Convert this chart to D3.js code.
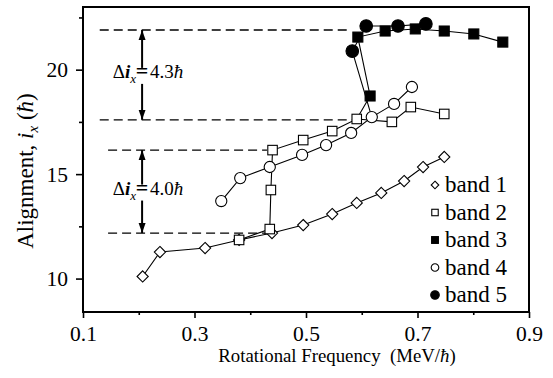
<!DOCTYPE html>
<html>
<head>
<meta charset="utf-8">
<script src="https://cdn.jsdelivr.net/npm/d3@7"></script>
<style>
  body { margin: 0; background: #fff; }
  svg text { font-family: "Liberation Serif", "DejaVu Serif", "Noto Serif", serif !important; fill: #000; }
</style>
</head>
<body>
<svg id="chart" width="553" height="378"></svg>
<script>
// values (frequency in MeV/hbar, alignment in hbar)
const band1Freq = [0.207, 0.238, 0.319, 0.38, 0.439, 0.495, 0.547, 0.591, 0.635, 0.676, 0.71, 0.748];
const band1Align = [10.1, 11.27, 11.46, 11.85, 12.18, 12.56, 13.09, 13.62, 14.1, 14.67, 15.34, 15.82];
const band2Freq = [0.38, 0.435, 0.437, 0.44, 0.495, 0.547, 0.591, 0.654, 0.688, 0.748];
const band2Align = [11.85, 12.37, 14.24, 16.15, 16.63, 17.06, 17.64, 17.5, 18.21, 17.88];
const band3Freq = [0.615, 0.593, 0.642, 0.696, 0.748, 0.801, 0.853];
const band3Align = [18.74, 21.56, 21.85, 21.95, 21.85, 21.71, 21.32];
const band4Freq = [0.348, 0.382, 0.435, 0.493, 0.536, 0.581, 0.618, 0.658, 0.69];
const band4Align = [13.71, 14.81, 15.34, 15.92, 16.39, 16.97, 17.73, 18.36, 19.17];
const band5Freq = [0.583, 0.608, 0.665, 0.715];
const band5Align = [20.89, 22.09, 22.09, 22.19];

// reference levels and the two alignment gains
const levelAlign = [21.9, 17.6, 16.15, 12.18];
const levelFrom = [0.13, 0.13, 0.145, 0.145];
const levelTo = [0.575, 0.586, 0.43, 0.43];
const gainFreq = 0.206;
const gainTop = [21.9, 16.15];
const gainBottom = [17.6, 12.18];
const gainLabel = ["4.3", "4.0"];

const freqMajor = [0.1, 0.3, 0.5, 0.7, 0.9];
const freqMinor = [0.2, 0.4, 0.6, 0.8];
const alignMajor = [10, 15, 20];
const alignMinor = [12.5, 17.5, 22.5];
const legendLabels = ["band 1", "band 2", "band 3", "band 4", "band 5"];

const svg = d3.select("#chart");
const x = d3.scaleLinear().domain([0.1, 0.9]).range([83, 529]);
const y = d3.scaleLinear().domain([8.4, 23]).range([312, 7]);

const zip = (f, a) => f.map((v, i) => ({ f: v, a: a[i] }));
const bands = [
  { kind: "diamond", pts: zip(band1Freq, band1Align), from: null },
  { kind: "square", pts: zip(band2Freq, band2Align), from: null },
  { kind: "squareFill", pts: zip(band3Freq, band3Align), from: { f: band2Freq[6], a: band2Align[6] } },
  { kind: "circle", pts: zip(band4Freq, band4Align), from: null },
  { kind: "circleFill", pts: zip(band5Freq, band5Align), from: { f: band4Freq[6], a: band4Align[6] } },
];

// dashed reference lines
svg.append("g").selectAll("line")
  .data(levelAlign)
  .join("line")
  .attr("x1", (d, i) => x(levelFrom[i]))
  .attr("x2", (d, i) => x(levelTo[i]))
  .attr("y1", (d) => y(d))
  .attr("y2", (d) => y(d))
  .attr("stroke", "#000")
  .attr("stroke-width", 1.3)
  .attr("stroke-dasharray", "9,5");

// double arrows with labels
const defs = svg.append("defs");
defs.append("marker")
  .attr("id", "head")
  .attr("viewBox", "0 0 10 10")
  .attr("refX", 10).attr("refY", 5)
  .attr("markerWidth", 10).attr("markerHeight", 10)
  .attr("markerUnits", "userSpaceOnUse")
  .attr("orient", "auto")
  .append("path").attr("d", "M0,1.5L10,5L0,8.5Z").attr("fill", "#000");

const ann = svg.append("g");
gainTop.forEach((top, i) => {
  const ax = x(gainFreq);
  const yt = y(top), yb = y(gainBottom[i]);
  const mid = (yt + yb) / 2;
  ann.append("line").attr("x1", ax).attr("x2", ax).attr("y1", mid - 7).attr("y2", yt)
    .attr("stroke", "#000").attr("stroke-width", 2).attr("marker-end", "url(#head)");
  ann.append("line").attr("x1", ax).attr("x2", ax).attr("y1", mid + 9).attr("y2", yb)
    .attr("stroke", "#000").attr("stroke-width", 2).attr("marker-end", "url(#head)");
  const base = mid + 3;
  const left = ann.append("text").attr("x", ax - 6).attr("y", base)
    .attr("text-anchor", "end").attr("font-size", 19);
  left.append("tspan").text("Δ");
  left.append("tspan").text("i").attr("font-style", "italic").attr("font-weight", "bold");
  left.append("tspan").text("x").attr("font-style", "italic").attr("font-size", 13).attr("dy", 5);
  ann.append("text").attr("x", ax).attr("y", base).attr("text-anchor", "middle")
    .attr("font-size", 22).attr("font-weight", "bold").text("=");
  const right = ann.append("text").attr("x", ax + 8).attr("y", base).attr("font-size", 19);
  right.append("tspan").text(gainLabel[i]);
  right.append("tspan").text("ħ").attr("font-style", "italic");
});

// connecting lines
const line = d3.line().x((d) => x(d.f)).y((d) => y(d.a));
svg.append("g").selectAll("path")
  .data(bands)
  .join("path")
  .attr("d", (b) => line(b.from ? [b.from, ...b.pts] : b.pts))
  .attr("fill", "none")
  .attr("stroke", "#000")
  .attr("stroke-width", 1.1);

function drawMark(sel, kind, big) {
  const k = big ? 1 : 0.68;
  if (kind === "diamond") {
    const r = 5.6 * k;
    sel.append("path").attr("d", `M0,${-r}L${r},0L0,${r}L${-r},0Z`)
      .attr("fill", "#fff").attr("stroke", "#000").attr("stroke-width", 1.1);
  } else if (kind === "square" || kind === "squareFill") {
    const s = (kind === "square" ? 9.5 : 10) * k;
    sel.append("rect").attr("x", -s / 2).attr("y", -s / 2).attr("width", s).attr("height", s)
      .attr("fill", kind === "square" ? "#fff" : "#000").attr("stroke", "#000").attr("stroke-width", 1.1);
  } else {
    const r = (kind === "circle" ? 5.6 : 6.3) * k;
    sel.append("circle").attr("r", r)
      .attr("fill", kind === "circle" ? "#fff" : "#000").attr("stroke", "#000").attr("stroke-width", 1.1);
  }
}

// markers
bands.forEach((b) => {
  svg.append("g").selectAll("g")
    .data(b.pts)
    .join("g")
    .attr("transform", (d) => `translate(${x(d.f)},${y(d.a)})`)
    .each(function () { drawMark(d3.select(this), b.kind, true); });
});

// legend
const legend = svg.append("g");
legendLabels.forEach((lab, i) => {
  const base = 192 + i * 27.5;
  const g = legend.append("g").attr("transform", `translate(435,${base - 7})`);
  drawMark(g, bands[i].kind, false);
  legend.append("text").attr("x", 445).attr("y", base).attr("font-size", 23).text(lab);
});

// frame
svg.append("rect").attr("x", 83).attr("y", 7).attr("width", 446).attr("height", 305)
  .attr("fill", "none").attr("stroke", "#000").attr("stroke-width", 2);

// axes
const xAxis = svg.append("g").attr("transform", "translate(0,312)");
xAxis.call(d3.axisBottom(x).tickValues(freqMajor).tickSize(6).tickFormat(d3.format(".1f")));
xAxis.append("g").call(d3.axisBottom(x).tickValues(freqMinor).tickSize(3).tickFormat(""));
const yAxis = svg.append("g").attr("transform", "translate(83,0)");
yAxis.call(d3.axisLeft(y).tickValues(alignMajor).tickSize(7).tickFormat(d3.format("d")));
yAxis.append("g").call(d3.axisLeft(y).tickValues(alignMinor).tickSize(4).tickFormat(""));
svg.selectAll(".domain").remove();
svg.selectAll("g[font-family]").attr("font-family", null);
svg.selectAll(".tick line").attr("stroke", "#000").attr("stroke-width", 1.6);
xAxis.selectAll(".tick text").attr("font-size", 21.5).attr("y", 9).attr("dy", "0.93em");
yAxis.selectAll(".tick text").attr("font-size", 21.5).attr("x", -15);

// axis titles
const xt = svg.append("text").attr("x", 337).attr("y", 362).attr("text-anchor", "middle")
  .attr("font-size", 18.8).attr("xml:space", "preserve");
xt.append("tspan").text("Rotational Frequency  (MeV/");
xt.append("tspan").text("ħ").attr("font-style", "italic");
xt.append("tspan").text(")");

const yt = svg.append("text").attr("transform", "translate(33,171) rotate(-90)")
  .attr("text-anchor", "middle").attr("font-size", 23);
yt.append("tspan").text("Alignment, ");
yt.append("tspan").text("i").attr("font-style", "italic");
yt.append("tspan").text("x").attr("font-style", "italic").attr("font-size", 15).attr("dy", 5);
yt.append("tspan").text(" (").attr("dy", -5);
yt.append("tspan").text("ħ").attr("font-style", "italic");
yt.append("tspan").text(")");
</script>
</body>
</html>
